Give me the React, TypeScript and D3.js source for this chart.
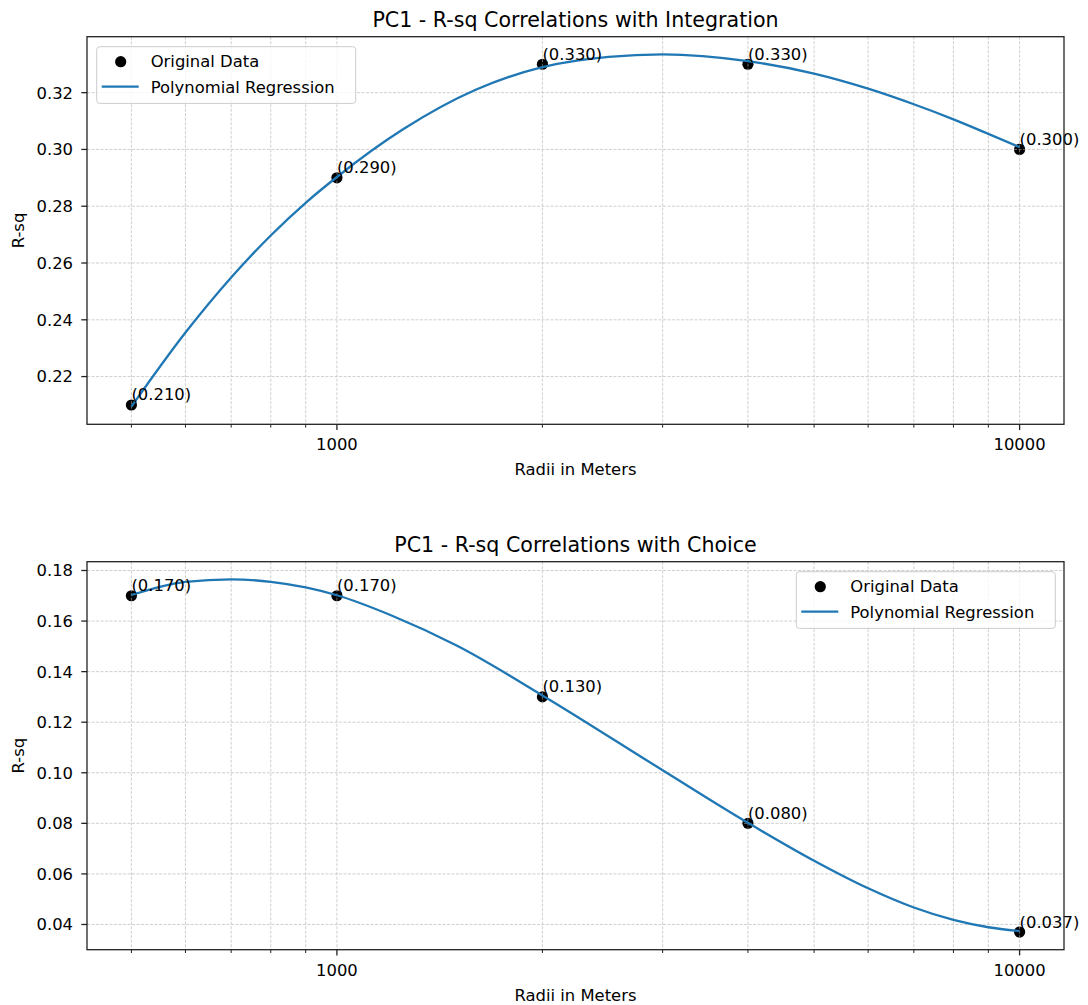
import React from 'react';
import * as d3 from 'd3';

const width = 1088;
const height = 1005;
const plotLeft = 87;
const plotRight = 1064;
const font = '"DejaVu Sans", sans-serif';
const blue = '#1f77b4';

const radii = [500, 1000, 2000, 4000, 10000];
const integrationRsq = [0.21, 0.29, 0.33, 0.33, 0.3];
const choiceRsq = [0.17, 0.17, 0.13, 0.08, 0.037];

// regression curves, sampled off the original figure
const fitRadii = [500, 600, 700, 800, 900, 1000, 1250, 1600, 2000, 2500, 3000, 4000, 5000, 6000, 7000, 8000, 9000, 10000];
const integrationFitRsq = [0.2094, 0.2355, 0.2549, 0.2697, 0.2812, 0.2903, 0.3071, 0.3211, 0.329, 0.3326, 0.3335, 0.3311, 0.3267, 0.3214, 0.3159, 0.3106, 0.3055, 0.3008];
const choiceFitRadii = [500, 600, 700, 800, 900, 1000, 1200, 1500, 2000, 3000, 4000, 5000, 6000, 7000, 8000, 9000, 10000];
const choiceFitRsq = [0.1703, 0.1755, 0.1765, 0.1755, 0.1733, 0.1702, 0.1623, 0.1502, 0.1306, 0.101, 0.0802, 0.0652, 0.0543, 0.0467, 0.0418, 0.0389, 0.0374];

const integrationTicks = [0.22, 0.24, 0.26, 0.28, 0.3, 0.32];
const choiceTicks = [0.04, 0.06, 0.08, 0.1, 0.12, 0.14, 0.16, 0.18];
const xMajorTicks = [1000, 10000];

// matplotlib-like 5% margins (log space for x)
const logMin = Math.log10(d3.min(radii));
const logMax = Math.log10(d3.max(radii));
const logPad = (logMax - logMin) * 0.05;
const xScale = d3.scaleLog()
  .domain([Math.pow(10, logMin - logPad), Math.pow(10, logMax + logPad)])
  .range([plotLeft, plotRight]);
const xGridTicks = xScale.ticks();

const Panel = ({ top, bottom, title, values, fitX, fitY, ticks, legendRight }) => {
  const all = values.concat(fitY);
  const lo = d3.min(all);
  const hi = d3.max(all);
  const pad = (hi - lo) * 0.05;
  const yScale = d3.scaleLinear().domain([lo - pad, hi + pad]).range([bottom, top]);

  const line = d3.line()
    .x((d) => xScale(d[0]))
    .y((d) => yScale(d[1]))
    .curve(d3.curveMonotoneX);
  const fit = fitX.map((x, i) => [x, fitY[i]]);

  const lgW = 259;
  const lgH = 56.7;
  const lgX = legendRight ? plotRight - 8.7 - lgW : plotLeft + 9.7;
  const lgY = top + 10;
  const mid = (plotLeft + plotRight) / 2;
  const fmt = d3.format('.3f');

  return (
    <g fontFamily={font}>
      {/* scatter sits below the grid like in matplotlib */}
      {radii.map((r, i) => (
        <circle key={i} cx={xScale(r)} cy={yScale(values[i])} r={5.6} fill='#000' />
      ))}
      <g stroke='#b0b0b0' strokeWidth={0.8} strokeDasharray='3,1.5' opacity={0.75}>
        {xGridTicks.map((t, i) => (
          <line key={'v' + i} x1={xScale(t)} x2={xScale(t)} y1={top} y2={bottom} />
        ))}
        {ticks.map((t, i) => (
          <line key={'h' + i} x1={plotLeft} x2={plotRight} y1={yScale(t)} y2={yScale(t)} />
        ))}
      </g>
      <path d={line(fit)} fill='none' stroke={blue} strokeWidth={2.3} />
      {radii.map((r, i) => (
        <text key={i} x={xScale(r)} y={yScale(values[i]) - 4.5} fontSize={16.4} fill='#000'>
          ({fmt(values[i])})
        </text>
      ))}
      <rect x={plotLeft} y={top} width={plotRight - plotLeft} height={bottom - top} fill='none' stroke='#222' strokeWidth={1.3} />
      {xGridTicks.map((t, i) => {
        const major = xMajorTicks.includes(t);
        return (
          <line key={i} x1={xScale(t)} x2={xScale(t)} y1={bottom} y2={bottom + (major ? 5.7 : 3.3)}
            stroke='#222' strokeWidth={major ? 1.3 : 1} />
        );
      })}
      {xMajorTicks.map((t, i) => (
        <text key={i} x={xScale(t)} y={bottom + 26} textAnchor='middle' fontSize={16.4} fill='#000'>{t}</text>
      ))}
      {ticks.map((t, i) => (
        <g key={i}>
          <line x1={plotLeft - 5.7} x2={plotLeft} y1={yScale(t)} y2={yScale(t)} stroke='#222' strokeWidth={1.3} />
          <text x={73} y={yScale(t)} dy='0.36em' textAnchor='end' fontSize={16.4} fill='#000'>{t.toFixed(2)}</text>
        </g>
      ))}
      <text x={mid} y={top - 10} textAnchor='middle' fontSize={20.6} fill='#000'>{title}</text>
      <text x={mid} y={bottom + 51} textAnchor='middle' fontSize={16.4} fill='#000'>Radii in Meters</text>
      <text transform={`translate(23.5, ${(top + bottom) / 2}) rotate(-90)`} textAnchor='middle' fontSize={16.4} fill='#000'>R-sq</text>
      <g>
        <rect x={lgX} y={lgY} width={lgW} height={lgH} rx={3} fill='#fff' fillOpacity={0.8} stroke='#cccccc' strokeWidth={1} />
        <circle cx={lgX + 24} cy={lgY + 15} r={5.6} fill='#000' />
        <text x={lgX + 54} y={lgY + 20.5} fontSize={16.4} fill='#000'>Original Data</text>
        <line x1={lgX + 5} x2={lgX + 42} y1={lgY + 40} y2={lgY + 40} stroke={blue} strokeWidth={2.3} />
        <text x={lgX + 54} y={lgY + 46.5} fontSize={16.4} fill='#000'>Polynomial Regression</text>
      </g>
    </g>
  );
};

export default function App() {
  return (
    <svg width={width} height={height} style={{ position: 'absolute', left: 0, top: 0, background: '#fff' }}>
      <rect width={width} height={height} fill='#fff' />
      <Panel top={36.7} bottom={424.3} title='PC1 - R-sq Correlations with Integration'
        values={integrationRsq} fitX={fitRadii} fitY={integrationFitRsq}
        ticks={integrationTicks} legendRight={false} />
      <Panel top={561.7} bottom={949.7} title='PC1 - R-sq Correlations with Choice'
        values={choiceRsq} fitX={choiceFitRadii} fitY={choiceFitRsq}
        ticks={choiceTicks} legendRight={true} />
    </svg>
  );
}
